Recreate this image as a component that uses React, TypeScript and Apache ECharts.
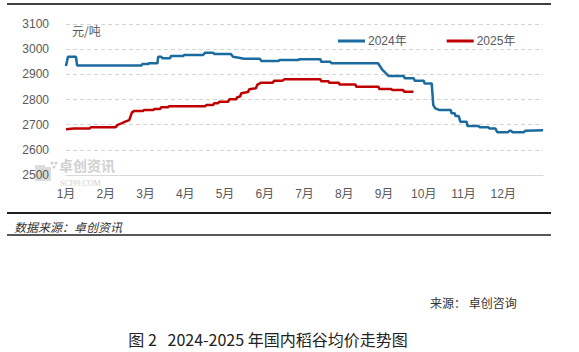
import React, { useEffect, useRef } from "react";
import * as echarts from "echarts";

const monthLabels = ["1月", "2月", "3月", "4月", "5月", "6月", "7月", "8月", "9月", "10月", "11月", "12月"];
const yTicks = [2500, 2600, 2700, 2800, 2900, 3000, 3100];

const x2024 = [0, 0.05, 0.25, 0.28, 1.9, 1.92, 2.07, 2.09, 2.3, 2.32, 2.4, 2.42, 2.62, 2.64, 2.95, 2.97, 3.45, 3.5, 3.7, 3.73, 4.15, 4.2, 4.35, 4.48, 4.88, 4.91, 5.35, 5.37, 5.85, 5.87, 6.4, 6.42, 6.65, 6.68, 7.85, 7.95, 8.05, 8.12, 8.5, 8.52, 8.75, 8.77, 9.0, 9.02, 9.2, 9.24, 9.29, 9.4, 9.68, 9.7, 9.78, 9.8, 9.88, 9.92, 10.08, 10.1, 10.38, 10.4, 10.62, 10.65, 10.8, 10.85, 11.12, 11.16, 11.2, 11.23, 11.52, 11.55, 12];
const y2024 = [2933, 2970, 2970, 2935, 2935, 2941, 2941, 2944, 2944, 2970, 2970, 2964, 2964, 2973, 2973, 2977, 2977, 2986, 2986, 2981, 2981, 2970, 2966, 2962, 2962, 2953, 2953, 2957, 2957, 2960, 2960, 2950, 2950, 2944, 2944, 2920, 2904, 2893, 2893, 2884, 2884, 2875, 2875, 2864, 2864, 2778, 2765, 2758, 2758, 2745, 2745, 2734, 2734, 2712, 2712, 2695, 2695, 2690, 2690, 2685, 2685, 2670, 2670, 2676, 2676, 2670, 2670, 2676, 2678];

const x2025 = [0, 0.2, 0.6, 0.63, 1.25, 1.3, 1.41, 1.49, 1.59, 1.66, 1.71, 1.94, 1.96, 2.2, 2.22, 2.37, 2.39, 2.57, 2.59, 3.5, 3.53, 3.7, 3.73, 3.83, 3.85, 4.08, 4.11, 4.28, 4.31, 4.38, 4.41, 4.58, 4.61, 4.78, 4.81, 4.91, 5.2, 5.24, 5.45, 5.49, 6.4, 6.42, 6.6, 6.62, 6.86, 6.88, 7.28, 7.3, 7.86, 7.88, 8.18, 8.21, 8.48, 8.51, 8.74];
const y2025 = [2682, 2685, 2685, 2690, 2690, 2699, 2706, 2712, 2718, 2749, 2754, 2754, 2758, 2758, 2762, 2762, 2769, 2769, 2773, 2773, 2778, 2778, 2785, 2785, 2791, 2791, 2801, 2801, 2809, 2812, 2825, 2830, 2841, 2845, 2858, 2867, 2867, 2875, 2875, 2880, 2880, 2873, 2873, 2867, 2867, 2860, 2860, 2851, 2851, 2842, 2842, 2838, 2838, 2831, 2831];

const seriesNames = ["2024年", "2025年"];
const seriesColors = ["#1b6b9e", "#c00000"];

const sansFont = "'Liberation Sans', 'Noto Sans CJK SC', sans-serif";
const cjkFont = "'Noto Sans CJK SC', sans-serif";

export default function App() {
  const ref = useRef<HTMLDivElement>(null);
  useEffect(() => {
    if (!ref.current) return;
    const chart = echarts.init(ref.current, undefined, { renderer: "svg" });
    const zip = (xs: number[], ys: number[]) => xs.map((x, i) => [x, ys[i]]);
    chart.setOption({
      animation: false,
      backgroundColor: "#ffffff",
      grid: { left: 66, right: 36, top: 24, bottom: 177 },
      legend: {
        data: seriesNames,
        left: 333,
        top: 30,
        icon: "rect",
        itemWidth: 27,
        itemHeight: 3,
        itemGap: 40,
        textStyle: { color: "#595959", fontSize: 12, fontFamily: sansFont, padding: [0, 0, 0, -2] },
      },
      xAxis: {
        type: "value",
        min: 0,
        max: 12,
        interval: 1,
        axisLine: { show: true, lineStyle: { color: "#d9d9d9", width: 1 } },
        axisTick: { show: false },
        splitLine: { show: false },
        axisLabel: {
          color: "#595959",
          fontSize: 12,
          fontFamily: sansFont,
          margin: 13,
          formatter: (v: number) => (v < 12 ? monthLabels[v] : ""),
        },
      },
      yAxis: {
        type: "value",
        min: yTicks[0],
        max: yTicks[yTicks.length - 1],
        interval: 100,
        axisLine: { show: false },
        axisTick: { show: false },
        splitLine: { show: true, lineStyle: { color: "#d4d4d4", type: [4, 3], width: 1 } },
        axisLabel: {
          color: "#595959",
          fontSize: 12,
          fontFamily: sansFont,
          margin: 17,
          formatter: (v: number) => String(v),
        },
      },
      series: [
        {
          name: seriesNames[0],
          type: "line",
          data: zip(x2024, y2024),
          showSymbol: false,
          symbol: "none",
          lineStyle: { color: seriesColors[0], width: 2.5 },
          itemStyle: { color: seriesColors[0] },
        },
        {
          name: seriesNames[1],
          type: "line",
          data: zip(x2025, y2025),
          showSymbol: false,
          symbol: "none",
          lineStyle: { color: seriesColors[1], width: 2.5 },
          itemStyle: { color: seriesColors[1] },
        },
      ],
      graphic: [
        { type: "line", shape: { x1: 7, y1: 4, x2: 551, y2: 4 }, style: { stroke: "#404040", lineWidth: 2 } },
        {
          type: "text",
          x: 72,
          y: 30,
          style: { text: "元/吨", fill: "#595959", fontSize: 12, fontFamily: cjkFont, verticalAlign: "middle" },
        },
        // watermark
        { type: "rect", shape: { x: 35, y: 165, width: 16, height: 16 }, style: { fill: "#dcdcdc" } },
        { type: "rect", shape: { x: 45, y: 161, width: 6, height: 6 }, style: { fill: "#ffffff" } },
        { type: "circle", shape: { cx: 52, cy: 163, r: 1.5 }, style: { fill: "#cfcfcf" } },
        { type: "circle", shape: { cx: 56, cy: 163, r: 1.5 }, style: { fill: "#cfcfcf" } },
        { type: "circle", shape: { cx: 54, cy: 167, r: 1.5 }, style: { fill: "#cfcfcf" } },
        {
          type: "text",
          x: 59,
          y: 158,
          style: { text: "卓创资讯", fill: "#d0d0d0", fontSize: 14, lineHeight: 14, fontWeight: "bold", fontFamily: cjkFont, verticalAlign: "top" },
        },
        {
          type: "text",
          x: 60,
          y: 179,
          style: { text: "SCI99.COM", fill: "#d0d0d0", fontSize: 8, lineHeight: 8, fontFamily: "'Liberation Serif', serif", verticalAlign: "top" },
        },
        { type: "line", shape: { x1: 7, y1: 213, x2: 551, y2: 213 }, style: { stroke: "#202020", lineWidth: 1.8 } },
        {
          type: "text",
          x: 14,
          y: 226,
          style: { text: "数据来源：卓创资讯", fill: "#333333", fontSize: 12, fontStyle: "italic", fontFamily: cjkFont, verticalAlign: "middle" },
        },
        { type: "line", shape: { x1: 7, y1: 235, x2: 551, y2: 235 }, style: { stroke: "#202020", lineWidth: 1.5 } },
        {
          type: "text",
          x: 430,
          y: 302,
          style: { text: "来源： 卓创咨询", fill: "#333333", fontSize: 12, fontFamily: cjkFont, verticalAlign: "middle" },
        },
        {
          type: "text",
          x: 268,
          y: 339,
          style: {
            text: "图 2   2024-2025 年国内稻谷均价走势图",
            fill: "#222222",
            fontSize: 16,
            fontFamily: cjkFont,
            align: "center",
            verticalAlign: "middle",
          },
        },
      ],
    });
    return () => chart.dispose();
  }, []);
  return (
    <div
      ref={ref}
      style={{ position: "absolute", left: 0, top: 0, width: 579, height: 352, background: "#ffffff" }}
    />
  );
}
